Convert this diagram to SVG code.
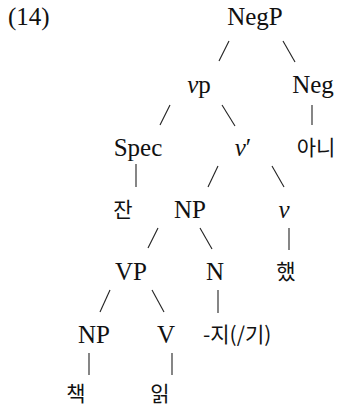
<svg xmlns="http://www.w3.org/2000/svg" width="340" height="408" viewBox="0 0 340 408">
<defs>
<style>
.t{font-family:'Liberation Serif','DejaVu Serif',serif;font-size:25px;fill:#111;text-anchor:middle}
.k{font-family:'Noto Sans CJK KR',sans-serif;font-size:21px;fill:#111;text-anchor:middle}
.s{text-anchor:start}
.i{font-style:italic}
.c line{stroke:#222;stroke-width:1.1}
</style>
</defs>
<rect width="340" height="408" fill="#fff"/>
<text class="t s" x="8" y="25">(14)</text>
<g id="connectors" class="c">
<line x1="219" y1="61" x2="229" y2="41"/>
<line x1="283" y1="41" x2="295" y2="62"/>
<line x1="160" y1="125" x2="170" y2="105"/>
<line x1="222" y1="105" x2="235" y2="126"/>
<line x1="312" y1="105" x2="312" y2="125"/>
<line x1="136" y1="164" x2="136" y2="187"/>
<line x1="208" y1="187" x2="218" y2="166"/>
<line x1="272" y1="166" x2="284" y2="187"/>
<line x1="148" y1="248" x2="158" y2="228"/>
<line x1="200" y1="228" x2="212" y2="249"/>
<line x1="289" y1="228" x2="289" y2="250"/>
<line x1="100" y1="312" x2="110" y2="290"/>
<line x1="152" y1="290" x2="164" y2="312"/>
<line x1="218" y1="290" x2="218" y2="313"/>
<line x1="89" y1="353" x2="89" y2="375"/>
<line x1="172" y1="353" x2="172" y2="375"/>
</g>
<g id="NegP"><text class="t" x="255" y="25">NegP</text></g>
<g id="vp"><text class="t" x="199" y="93"><tspan class="i">v</tspan>p</text></g>
<g id="Neg"><text class="t" x="313" y="93">Neg</text></g>
<g id="Spec"><text class="t" x="138" y="156">Spec</text></g>
<g id="vbar"><text class="t" x="243" y="156"><tspan class="i">v</tspan>′</text></g>
<g id="ani"><text class="k" x="316" y="155">아니</text></g>
<g id="jan"><text class="k" x="123" y="217">잔</text></g>
<g id="NP1"><text class="t" x="190" y="218">NP</text></g>
<g id="v"><text class="t i" x="284" y="218">v</text></g>
<g id="VP"><text class="t" x="131" y="280">VP</text></g>
<g id="N"><text class="t" x="215" y="280">N</text></g>
<g id="haet"><text class="k" x="286" y="279">했</text></g>
<g id="NP2"><text class="t" x="94" y="343">NP</text></g>
<g id="V"><text class="t" x="166" y="343">V</text></g>
<g id="ji"><text class="k s" x="203" y="342">-지(/기)</text></g>
<g id="chaek"><text class="k" x="76" y="401">책</text></g>
<g id="ilk"><text class="k" x="160" y="401">읽</text></g>
</svg>
